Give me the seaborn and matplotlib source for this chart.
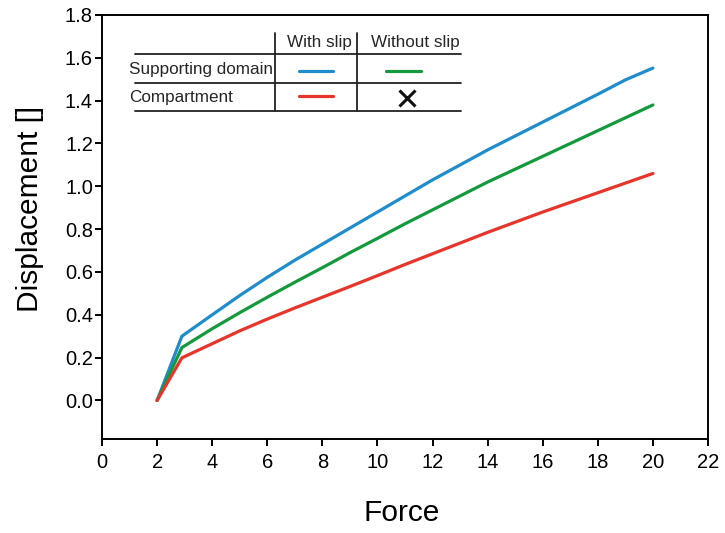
import numpy as np
import pandas as pd
import matplotlib
matplotlib.use("Agg")
import matplotlib.pyplot as plt
import seaborn as sns

# ---- data ----
force_blue = [2, 2.9, 4, 5, 6, 7, 8, 9, 10, 11, 12, 14, 16, 18, 19, 20]
disp_blue = [0, 0.30, 0.40, 0.49, 0.575, 0.655, 0.73, 0.805, 0.88, 0.955, 1.03, 1.17, 1.30, 1.43, 1.497, 1.552]
force_green = [2, 2.9, 4, 5, 6, 7, 8, 9, 10, 11, 12, 14, 16, 18, 20]
disp_green = [0, 0.247, 0.335, 0.41, 0.482, 0.552, 0.62, 0.69, 0.757, 0.825, 0.89, 1.02, 1.14, 1.26, 1.38]
force_red = [2, 2.9, 4, 5, 6, 7, 8, 9, 10, 11, 12, 14, 16, 18, 20]
disp_red = [0, 0.199, 0.265, 0.325, 0.38, 0.432, 0.482, 0.532, 0.583, 0.635, 0.685, 0.785, 0.88, 0.97, 1.06]

series_names = ["Supporting domain / with slip", "Supporting domain / without slip",
                "Compartment / with slip"]
series_colors = ["#1f8ccb", "#14993c", "#e8352c"]

col_labels = ["With slip", "Without slip"]
row_labels = ["Supporting domain", "Compartment"]

xticks = list(range(0, 23, 2))
yticks = [0.0, 0.2, 0.4, 0.6, 0.8, 1.0, 1.2, 1.4, 1.6, 1.8]

df = pd.concat([
    pd.DataFrame({"Force": force_blue, "Displacement": disp_blue, "series": series_names[0]}),
    pd.DataFrame({"Force": force_green, "Displacement": disp_green, "series": series_names[1]}),
    pd.DataFrame({"Force": force_red, "Displacement": disp_red, "series": series_names[2]}),
], ignore_index=True)

# ---- style ----
sns.set_theme(style="ticks")
plt.rcParams["font.family"] = ["Liberation Sans", "DejaVu Sans"]
plt.rcParams["axes.linewidth"] = 1.4

fig = plt.figure(figsize=(7.25, 5.33), dpi=100)
ax = fig.add_axes([102 / 725, 94 / 533, 606 / 725, 424 / 533])

sns.lineplot(data=df, x="Force", y="Displacement", hue="series",
             palette=dict(zip(series_names, series_colors)),
             estimator=None, sort=False, linewidth=2.3, legend=False, ax=ax)

ax.set_xlim(0, 22)
ax.set_ylim(-0.18, 1.8)
ax.set_xticks(xticks)
ax.set_xticklabels([str(t) for t in xticks])
ax.set_yticks(yticks)
ax.set_yticklabels([f"{t:.1f}" for t in yticks])
ax.tick_params(axis="both", direction="out", length=5, width=1.4,
               labelsize=14.5, colors="black")
ax.tick_params(axis="y", pad=1.5)
ax.tick_params(axis="x", pad=5)
for s in ax.spines.values():
    s.set_color("black")
    s.set_linewidth(1.4)

ax.set_xlabel("Force", fontsize=21.5, color="black")
ax.set_ylabel("Displacement []", fontsize=21.5, color="black")
ax.xaxis.set_label_coords(0.495, -0.141)
ax.yaxis.set_label_coords(-0.096, 0.542)

# ---- table-style legend ----
tr = ax.transAxes
lc = "#222222"
for yy in [0.908, 0.8403, 0.7743]:
    ax.plot([0.0545, 0.5919], [yy, yy], color=lc, lw=1.3, transform=tr, clip_on=False)
for xx in [0.2855, 0.4203]:
    ax.plot([xx, xx], [0.9575, 0.7743], color=lc, lw=1.3, transform=tr, clip_on=False)

fs_leg = 12.3
ax.text(0.358, 0.936, col_labels[0], transform=tr, ha="center", va="center", fontsize=fs_leg)
ax.text(0.5177, 0.936, col_labels[1], transform=tr, ha="center", va="center", fontsize=fs_leg)
ax.text(0.0446, 0.872, row_labels[0], transform=tr, ha="left", va="center", fontsize=fs_leg)
ax.text(0.0446, 0.806, row_labels[1], transform=tr, ha="left", va="center", fontsize=fs_leg)

ax.plot([0.325, 0.381], [0.8686, 0.8686], color=series_colors[0], lw=2.3, transform=tr)
ax.plot([0.4686, 0.5259], [0.8686, 0.8686], color=series_colors[1], lw=2.3, transform=tr)
ax.plot([0.325, 0.381], [0.8097, 0.8097], color=series_colors[2], lw=2.3, transform=tr)
ax.plot([0.5028], [0.804], marker="x", color="#111111", markersize=11, mew=2.2, transform=tr)

fig.savefig("out.png", dpi=100)
